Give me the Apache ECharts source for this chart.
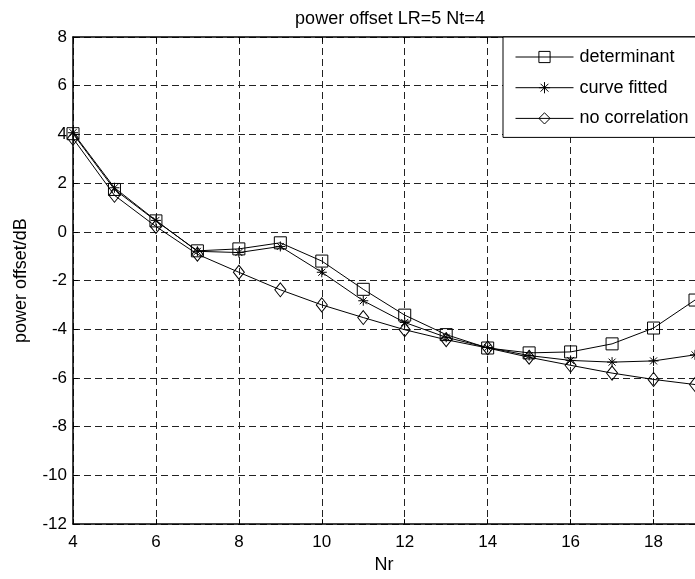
<!doctype html>
<html lang="en">
<head>
  <meta charset="UTF-8">
  <title>power offset</title>
  <style>
    html, body { margin: 0; padding: 0; background: #fff; }
    #chart { width: 695px; height: 579px; }
  </style>
  <script src="https://cdn.jsdelivr.net/npm/echarts@6/dist/echarts.min.js"></script>
</head>
<body>
  <div id="chart"></div>
  <script>
    // Nr values
    var nr = [4, 5, 6, 7, 8, 9, 10, 11, 12, 13, 14, 15, 16, 17, 18, 19];
    // power offset / dB
    var determinant = [4.03, 1.74, 0.45, -0.78, -0.70, -0.45, -1.20, -2.36, -3.42, -4.22, -4.77, -4.97, -4.93, -4.60, -3.95, -2.80];
    var curveFitted = [4.07, 1.81, 0.47, -0.80, -0.85, -0.60, -1.66, -2.83, -3.72, -4.33, -4.75, -5.08, -5.28, -5.35, -5.30, -5.05];
    var noCorrelation = [3.84, 1.50, 0.22, -0.92, -1.66, -2.38, -3.00, -3.52, -4.02, -4.43, -4.77, -5.15, -5.48, -5.80, -6.06, -6.27];

    var font = 'Liberation Sans, Arial, sans-serif';
    var starPath = 'path://M5,0L5,10M0,5L10,5M1.5,1.5L8.5,8.5M1.5,8.5L8.5,1.5';

    function pairs(arr) {
      var out = [];
      for (var i = 0; i < nr.length; i++) {
        out.push([nr[i], arr[i]]);
      }
      return out;
    }

    function makeSeries(name, arr, symbol, size) {
      return {
        name: name,
        type: 'line',
        data: pairs(arr),
        symbol: symbol,
        symbolSize: size,
        showAllSymbol: true,
        lineStyle: { color: '#000', width: 1 },
        itemStyle: { color: 'rgba(0,0,0,0)', borderColor: '#000', borderWidth: 1 },
        emphasis: { disabled: true },
        animation: false
      };
    }

    var gridLine = { show: true, lineStyle: { color: '#222', width: 1, type: [7, 4] } };

    var myChart = echarts.init(document.getElementById('chart'));
    var option = {
      backgroundColor: '#fff',
      title: {
        text: 'power offset LR=5 Nt=4',
        left: 385,
        top: 5,
        textAlign: 'center',
        textStyle: { fontFamily: font, fontSize: 18, fontWeight: 'normal', color: '#000' }
      },
      grid: { left: 73, top: 37, width: 628, height: 492 },
      legend: {
        left: 503,
        top: 37,
        orient: 'vertical',
        backgroundColor: '#fff',
        borderColor: '#000',
        borderWidth: 1,
        borderRadius: 0,
        padding: [11, 14, 10, 12],
        itemWidth: 58,
        itemHeight: 14,
        itemGap: 12.7,
        lineStyle: { color: '#000', width: 1 },
        itemStyle: { borderColor: '#000', borderWidth: 1 },
        textStyle: { fontFamily: font, fontSize: 18, color: '#000', padding: [0, 0, 0, 1] },
        data: ['determinant', 'curve fitted', 'no correlation']
      },
      xAxis: [{
        type: 'value',
        min: 4,
        max: 19,
        interval: 2,
        name: 'Nr',
        nameLocation: 'middle',
        nameGap: 28,
        nameTextStyle: { fontFamily: font, fontSize: 18, color: '#000' },
        axisLine: { show: true, onZero: false, lineStyle: { color: '#000', width: 1.5 } },
        axisTick: { show: true, inside: true, length: 5, lineStyle: { color: '#000' } },
        axisLabel: { fontFamily: font, fontSize: 17, color: '#000', margin: 10, showMaxLabel: false },
        splitLine: gridLine
      }, {
        type: 'value',
        position: 'top',
        min: 4,
        max: 19,
        interval: 2,
        axisLine: { show: true, onZero: false, lineStyle: { color: '#000', width: 1.5 } },
        axisTick: { show: true, inside: true, length: 5, lineStyle: { color: '#000' } },
        axisLabel: { show: false },
        splitLine: { show: false }
      }],
      yAxis: {
        type: 'value',
        min: -12,
        max: 8,
        interval: 2,
        name: 'power offset/dB',
        nameLocation: 'middle',
        nameGap: 43,
        nameTextStyle: { fontFamily: font, fontSize: 18, color: '#000' },
        axisLine: { show: true, onZero: false, lineStyle: { color: '#000', width: 1.5 } },
        axisTick: { show: true, inside: true, length: 5, lineStyle: { color: '#000' } },
        axisLabel: { fontFamily: font, fontSize: 17, color: '#000', margin: 6 },
        splitLine: gridLine
      },
      series: [
        makeSeries('determinant', determinant, 'rect', 12),
        makeSeries('curve fitted', curveFitted, starPath, 10),
        makeSeries('no correlation', noCorrelation, 'diamond', [11, 14])
      ]
    };
    myChart.setOption(option);
  </script>
</body>
</html>
